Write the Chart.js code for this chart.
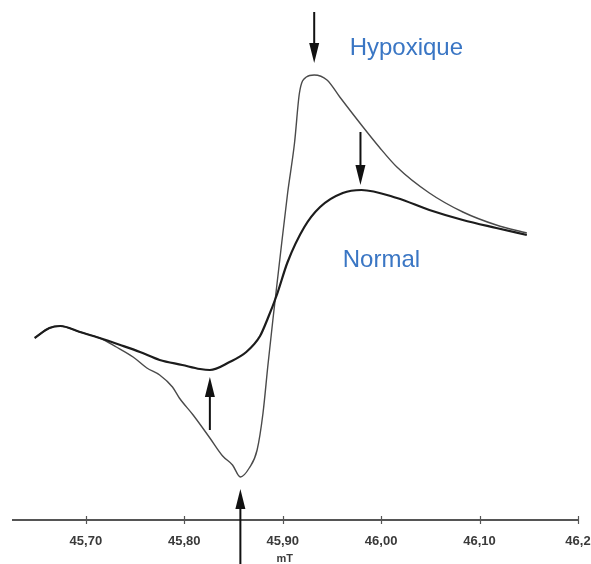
<!DOCTYPE html>
<html>
<head>
<meta charset="utf-8">
<script src="https://cdn.jsdelivr.net/npm/chart.js@4.4.0/dist/chart.umd.min.js"></script>
<style>
  html, body { margin: 0; padding: 0; background: #ffffff; }
  #wrap { width: 591px; height: 564px; position: relative; }
</style>
</head>
<body>
<div id="wrap"><canvas id="c" width="591" height="564"></canvas></div>
<script>
// Magnetic field (mT) sample positions and signal (arbitrary units)
const normalField = [45.648, 45.663, 45.674, 45.694, 45.714, 45.735, 45.755, 45.775, 45.798, 45.816, 45.826, 45.846, 45.863, 45.877, 45.885, 45.894, 45.905, 45.922, 45.938, 45.961, 45.980, 46.016, 46.049, 46.083, 46.117, 46.148];
const normalSignal = [182, 192, 194, 188, 182, 175, 168, 160, 155, 151, 150, 158, 168, 184, 202, 225, 258, 293, 313, 327, 330, 322, 310, 300, 292, 285];

const hypoxField = [45.648, 45.663, 45.674, 45.694, 45.714, 45.731, 45.748, 45.762, 45.775, 45.788, 45.795, 45.809, 45.826, 45.839, 45.849, 45.857, 45.866, 45.874, 45.880, 45.885, 45.890, 45.897, 45.905, 45.912, 45.917, 45.924, 45.932, 45.945, 45.958, 45.980, 45.998, 46.016, 46.049, 46.083, 46.117, 46.148];
const hypoxSignal = [182, 192, 194, 188, 182, 173, 163, 152, 145, 133, 122, 105, 82, 64, 55, 43, 52, 70, 107, 155, 200, 260, 327, 377, 427, 443, 445, 440, 423, 395, 373, 353, 327, 308, 295, 287];

const tickValues = [45.70, 45.80, 45.90, 46.00, 46.10, 46.20];
const tickLabels = ["45,70", "45,80", "45,90", "46,00", "46,10", "46,2"];
const axisTitle = "mT";
const seriesNames = ["Normal", "Hypoxique"];

// Arrows marking the extrema (field, signal from, signal to)
const arrowField = [45.932, 45.979, 45.826, 45.857];
const arrowFrom  = [508, 388, 90, -44];
const arrowTo    = [457, 335, 143, 31];

const toPoints = (xs, ys) => xs.map((x, i) => ({ x: x, y: ys[i] }));

const annotations = {
  id: 'annotations',
  afterDraw(chart) {
    const ctx = chart.ctx;
    const xs = chart.scales.x, ys = chart.scales.y;
    ctx.save();
    // tick marks crossing the axis line
    const axisY = chart.chartArea.bottom;
    ctx.strokeStyle = '#555';
    ctx.lineWidth = 1.2;
    tickValues.forEach(v => {
      const px = Math.round(xs.getPixelForValue(v)) + 0.5;
      ctx.beginPath();
      ctx.moveTo(px, axisY - 4);
      ctx.lineTo(px, axisY + 4);
      ctx.stroke();
    });
    // axis title
    ctx.fillStyle = '#3a3a3a';
    ctx.font = 'bold 11px "Liberation Sans", Arial, sans-serif';
    ctx.textAlign = 'center';
    ctx.textBaseline = 'middle';
    ctx.fillText(axisTitle, xs.getPixelForValue(45.90) + 2, 559);
    // arrows
    ctx.strokeStyle = '#111';
    ctx.fillStyle = '#111';
    arrowField.forEach((f, i) => {
      const x = xs.getPixelForValue(f);
      const y0 = ys.getPixelForValue(arrowFrom[i]);
      const y1 = ys.getPixelForValue(arrowTo[i]);
      const dir = y1 > y0 ? 1 : -1;
      const headLen = 20, headHalf = 5;
      ctx.lineWidth = 2;
      ctx.beginPath();
      ctx.moveTo(x, y0);
      ctx.lineTo(x, y1 - dir * (headLen - 4));
      ctx.stroke();
      ctx.beginPath();
      ctx.moveTo(x, y1);
      ctx.lineTo(x - headHalf, y1 - dir * headLen);
      ctx.lineTo(x + headHalf, y1 - dir * headLen);
      ctx.closePath();
      ctx.fill();
    });
    // series labels
    ctx.fillStyle = '#3a76c4';
    ctx.font = '24px "Liberation Sans", Arial, sans-serif';
    ctx.textAlign = 'left';
    ctx.textBaseline = 'alphabetic';
    ctx.fillText(seriesNames[1], xs.getPixelForValue(45.968), ys.getPixelForValue(465));
    ctx.fillText(seriesNames[0], xs.getPixelForValue(45.961), ys.getPixelForValue(253));
    ctx.restore();
  }
};

new Chart(document.getElementById('c'), {
  type: 'line',
  data: {
    datasets: [
      {
        label: seriesNames[0],
        data: toPoints(normalField, normalSignal),
        borderColor: '#1c1c1c',
        borderWidth: 2.2,
        pointRadius: 0,
        cubicInterpolationMode: 'monotone',
        clip: false
      },
      {
        label: seriesNames[1],
        data: toPoints(hypoxField, hypoxSignal),
        borderColor: '#4a4a4a',
        borderWidth: 1.4,
        pointRadius: 0,
        cubicInterpolationMode: 'monotone',
        clip: false
      }
    ]
  },
  options: {
    responsive: false,
    animation: false,
    layout: { padding: { left: 13, right: 0, top: 0, bottom: 0 } },
    plugins: { legend: { display: false }, tooltip: { enabled: false } },
    scales: {
      x: {
        type: 'linear',
        min: 45.626,
        max: 46.20,
        afterBuildTicks: (scale) => { scale.ticks = tickValues.map(v => ({ value: v })); },
        afterFit: (scale) => { scale.height = 44; scale.paddingRight = 13; },
        grid: { display: false },
        border: { display: true, color: '#555', width: 2 },
        ticks: {
          padding: 6,
          maxRotation: 0,
          autoSkip: false,
          color: '#3a3a3a',
          font: { family: '"Liberation Sans", Arial, sans-serif', size: 13, weight: 'bold' },
          callback: (value, index) => tickLabels[index]
        }
      },
      y: {
        type: 'linear',
        display: false,
        min: 0,
        max: 520
      }
    }
  },
  plugins: [annotations]
});
</script>
</body>
</html>
